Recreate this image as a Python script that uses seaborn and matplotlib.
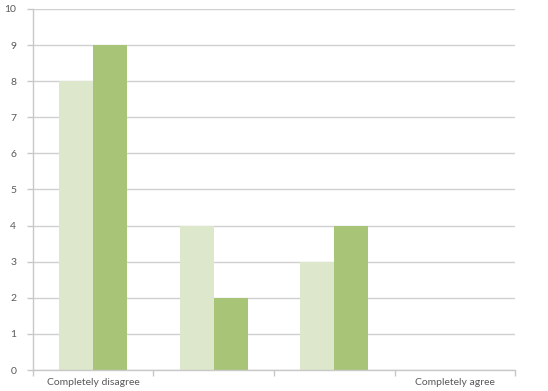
import matplotlib
matplotlib.use("Agg")
import matplotlib.pyplot as plt
import seaborn as sns
import pandas as pd
from matplotlib.ticker import FixedLocator

categories = ["Completely disagree", "2", "3", "Completely agree"]
tick_labels = ["Completely disagree", "", "", "Completely agree"]
series1 = [8, 4, 3, 0]
series2 = [9, 2, 4, 0]

df = pd.DataFrame({
    "category": categories * 2,
    "value": series1 + series2,
    "series": ["Series 1"] * 4 + ["Series 2"] * 4,
})

sns.set_theme(style="white")
plt.rcParams["font.family"] = ["Lato", "DejaVu Sans"]

fig = plt.figure(figsize=(5.48, 3.91), dpi=100)
ax = fig.add_axes([0.060, 0.0537, 0.880, 0.9233])

sns.barplot(data=df, x="category", y="value", hue="series", order=categories,
            palette=["#DDE7CB", "#A8C477"], width=0.565, linewidth=0,
            saturation=1, ax=ax, legend=False)

ax.set_xlim(-0.5, 3.5)
ax.set_ylim(0, 10)
ax.set_yticks(range(0, 11))
ax.yaxis.grid(True, color="#D0D0D0", linewidth=1)
ax.set_axisbelow(True)
ax.set_xlabel("")
ax.set_ylabel("")
ax.set_xticks(range(4))
ax.set_xticklabels(tick_labels)
ax.xaxis.set_minor_locator(FixedLocator([-0.5, 0.5, 1.5, 2.5, 3.5]))
ax.tick_params(axis="x", which="major", length=0, pad=6, labelsize=7.5, labelcolor="#595959")
ax.tick_params(axis="x", which="minor", length=4, width=1, color="#C8C8C8", bottom=True)
ax.tick_params(axis="y", length=4, width=1, color="#C8C8C8", left=True, pad=8,
               labelsize=7.5, labelcolor="#595959")
for s in ["top", "right"]:
    ax.spines[s].set_visible(False)
for s in ["left", "bottom"]:
    ax.spines[s].set_color("#C8C8C8")
    ax.spines[s].set_linewidth(1)

fig.savefig("out.png", dpi=100)
